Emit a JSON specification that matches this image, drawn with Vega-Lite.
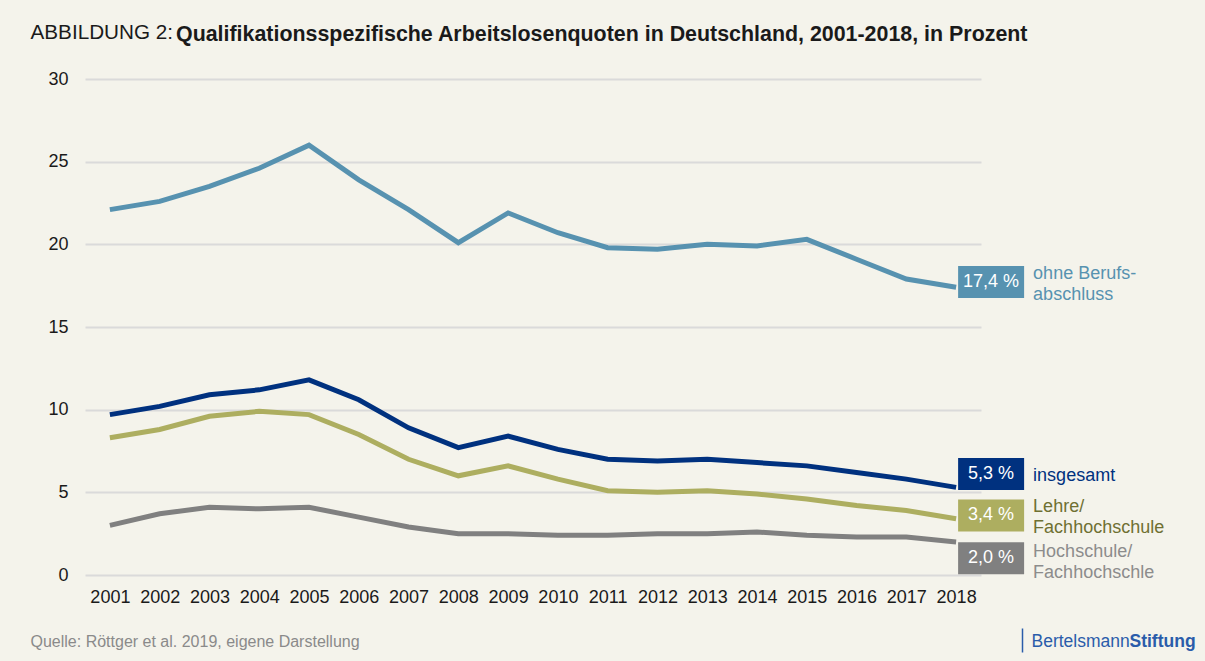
{
  "$schema": "https://vega.github.io/schema/vega-lite/v6.json",
  "width": 896,
  "height": 496,
  "autosize": "none",
  "padding": {"left": 85, "top": 79, "right": 224, "bottom": 86},
  "background": "#F4F3EB",
  "title": {
    "text": "Qualifikationsspezifische Arbeitslosenquoten in Deutschland, 2001-2018, in Prozent",
    "anchor": "start",
    "frame": "group",
    "orient": "top",
    "baseline": "alphabetic",
    "offset": 0,
    "dx": 91,
    "dy": 41,
    "font": "Liberation Sans",
    "fontSize": 21.4,
    "fontWeight": "bold",
    "color": "#1a1a1a"
  },
  "datasets": {
    "quoten": [
      {"Jahr": 2001, "Gruppe": "ohne Berufsabschluss", "Quote": 22.1},
      {"Jahr": 2002, "Gruppe": "ohne Berufsabschluss", "Quote": 22.6},
      {"Jahr": 2003, "Gruppe": "ohne Berufsabschluss", "Quote": 23.5},
      {"Jahr": 2004, "Gruppe": "ohne Berufsabschluss", "Quote": 24.6},
      {"Jahr": 2005, "Gruppe": "ohne Berufsabschluss", "Quote": 26.0},
      {"Jahr": 2006, "Gruppe": "ohne Berufsabschluss", "Quote": 23.9},
      {"Jahr": 2007, "Gruppe": "ohne Berufsabschluss", "Quote": 22.1},
      {"Jahr": 2008, "Gruppe": "ohne Berufsabschluss", "Quote": 20.1},
      {"Jahr": 2009, "Gruppe": "ohne Berufsabschluss", "Quote": 21.9},
      {"Jahr": 2010, "Gruppe": "ohne Berufsabschluss", "Quote": 20.7},
      {"Jahr": 2011, "Gruppe": "ohne Berufsabschluss", "Quote": 19.8},
      {"Jahr": 2012, "Gruppe": "ohne Berufsabschluss", "Quote": 19.7},
      {"Jahr": 2013, "Gruppe": "ohne Berufsabschluss", "Quote": 20.0},
      {"Jahr": 2014, "Gruppe": "ohne Berufsabschluss", "Quote": 19.9},
      {"Jahr": 2015, "Gruppe": "ohne Berufsabschluss", "Quote": 20.3},
      {"Jahr": 2016, "Gruppe": "ohne Berufsabschluss", "Quote": 19.1},
      {"Jahr": 2017, "Gruppe": "ohne Berufsabschluss", "Quote": 17.9},
      {"Jahr": 2018, "Gruppe": "ohne Berufsabschluss", "Quote": 17.4},
      {"Jahr": 2001, "Gruppe": "insgesamt", "Quote": 9.7},
      {"Jahr": 2002, "Gruppe": "insgesamt", "Quote": 10.2},
      {"Jahr": 2003, "Gruppe": "insgesamt", "Quote": 10.9},
      {"Jahr": 2004, "Gruppe": "insgesamt", "Quote": 11.2},
      {"Jahr": 2005, "Gruppe": "insgesamt", "Quote": 11.8},
      {"Jahr": 2006, "Gruppe": "insgesamt", "Quote": 10.6},
      {"Jahr": 2007, "Gruppe": "insgesamt", "Quote": 8.9},
      {"Jahr": 2008, "Gruppe": "insgesamt", "Quote": 7.7},
      {"Jahr": 2009, "Gruppe": "insgesamt", "Quote": 8.4},
      {"Jahr": 2010, "Gruppe": "insgesamt", "Quote": 7.6},
      {"Jahr": 2011, "Gruppe": "insgesamt", "Quote": 7.0},
      {"Jahr": 2012, "Gruppe": "insgesamt", "Quote": 6.9},
      {"Jahr": 2013, "Gruppe": "insgesamt", "Quote": 7.0},
      {"Jahr": 2014, "Gruppe": "insgesamt", "Quote": 6.8},
      {"Jahr": 2015, "Gruppe": "insgesamt", "Quote": 6.6},
      {"Jahr": 2016, "Gruppe": "insgesamt", "Quote": 6.2},
      {"Jahr": 2017, "Gruppe": "insgesamt", "Quote": 5.8},
      {"Jahr": 2018, "Gruppe": "insgesamt", "Quote": 5.3},
      {"Jahr": 2001, "Gruppe": "Lehre/Fachhochschule", "Quote": 8.3},
      {"Jahr": 2002, "Gruppe": "Lehre/Fachhochschule", "Quote": 8.8},
      {"Jahr": 2003, "Gruppe": "Lehre/Fachhochschule", "Quote": 9.6},
      {"Jahr": 2004, "Gruppe": "Lehre/Fachhochschule", "Quote": 9.9},
      {"Jahr": 2005, "Gruppe": "Lehre/Fachhochschule", "Quote": 9.7},
      {"Jahr": 2006, "Gruppe": "Lehre/Fachhochschule", "Quote": 8.5},
      {"Jahr": 2007, "Gruppe": "Lehre/Fachhochschule", "Quote": 7.0},
      {"Jahr": 2008, "Gruppe": "Lehre/Fachhochschule", "Quote": 6.0},
      {"Jahr": 2009, "Gruppe": "Lehre/Fachhochschule", "Quote": 6.6},
      {"Jahr": 2010, "Gruppe": "Lehre/Fachhochschule", "Quote": 5.8},
      {"Jahr": 2011, "Gruppe": "Lehre/Fachhochschule", "Quote": 5.1},
      {"Jahr": 2012, "Gruppe": "Lehre/Fachhochschule", "Quote": 5.0},
      {"Jahr": 2013, "Gruppe": "Lehre/Fachhochschule", "Quote": 5.1},
      {"Jahr": 2014, "Gruppe": "Lehre/Fachhochschule", "Quote": 4.9},
      {"Jahr": 2015, "Gruppe": "Lehre/Fachhochschule", "Quote": 4.6},
      {"Jahr": 2016, "Gruppe": "Lehre/Fachhochschule", "Quote": 4.2},
      {"Jahr": 2017, "Gruppe": "Lehre/Fachhochschule", "Quote": 3.9},
      {"Jahr": 2018, "Gruppe": "Lehre/Fachhochschule", "Quote": 3.4},
      {"Jahr": 2001, "Gruppe": "Hochschule/Fachhochschle", "Quote": 3.0},
      {"Jahr": 2002, "Gruppe": "Hochschule/Fachhochschle", "Quote": 3.7},
      {"Jahr": 2003, "Gruppe": "Hochschule/Fachhochschle", "Quote": 4.1},
      {"Jahr": 2004, "Gruppe": "Hochschule/Fachhochschle", "Quote": 4.0},
      {"Jahr": 2005, "Gruppe": "Hochschule/Fachhochschle", "Quote": 4.1},
      {"Jahr": 2006, "Gruppe": "Hochschule/Fachhochschle", "Quote": 3.5},
      {"Jahr": 2007, "Gruppe": "Hochschule/Fachhochschle", "Quote": 2.9},
      {"Jahr": 2008, "Gruppe": "Hochschule/Fachhochschle", "Quote": 2.5},
      {"Jahr": 2009, "Gruppe": "Hochschule/Fachhochschle", "Quote": 2.5},
      {"Jahr": 2010, "Gruppe": "Hochschule/Fachhochschle", "Quote": 2.4},
      {"Jahr": 2011, "Gruppe": "Hochschule/Fachhochschle", "Quote": 2.4},
      {"Jahr": 2012, "Gruppe": "Hochschule/Fachhochschle", "Quote": 2.5},
      {"Jahr": 2013, "Gruppe": "Hochschule/Fachhochschle", "Quote": 2.5},
      {"Jahr": 2014, "Gruppe": "Hochschule/Fachhochschle", "Quote": 2.6},
      {"Jahr": 2015, "Gruppe": "Hochschule/Fachhochschle", "Quote": 2.4},
      {"Jahr": 2016, "Gruppe": "Hochschule/Fachhochschle", "Quote": 2.3},
      {"Jahr": 2017, "Gruppe": "Hochschule/Fachhochschle", "Quote": 2.3},
      {"Jahr": 2018, "Gruppe": "Hochschule/Fachhochschle", "Quote": 2.0}
    ]
  },
  "data": {"name": "quoten"},
  "resolve": {"axis": {"x": "independent", "y": "independent"}},
  "layer": [
    {
      "mark": {"type": "line", "strokeWidth": 5, "strokeJoin": "miter"},
      "encoding": {
        "x": {
          "field": "Jahr", "type": "ordinal",
          "scale": {"type": "point", "padding": 0.5},
          "axis": {
            "labelAngle": 0, "labelOverlap": false, "labelFontSize": 18, "labelFont": "Liberation Sans",
            "labelColor": "#1a1a1a", "labelPadding": 13, "ticks": false, "domain": false, "grid": false,
            "title": "Quelle: Röttger et al. 2019, eigene Darstellung",
            "titleX": -55, "titleY": 71, "titleAlign": "left", "titleAnchor": "start", "titleBaseline": "alphabetic",
            "titleFont": "Liberation Sans", "titleFontSize": 16, "titleFontWeight": "normal", "titleColor": "#8a8a8a"
          }
        },
        "y": {
          "field": "Quote", "type": "quantitative",
          "scale": {"domain": [0, 30], "nice": false},
          "axis": {
            "values": [0, 5, 10, 15, 20, 25, 30],
            "labelFontSize": 18, "labelFont": "Liberation Sans", "labelColor": "#1a1a1a", "labelPadding": 17,
            "ticks": false, "domain": false, "grid": true, "gridColor": "#dadada", "gridWidth": 2,
            "title": "ABBILDUNG 2:",
            "titleX": -55, "titleY": -41, "titleAngle": 0, "titleAlign": "left", "titleAnchor": "start", "titleBaseline": "alphabetic",
            "titleFont": "Liberation Sans", "titleFontSize": 20.7, "titleFontWeight": "normal", "titleColor": "#1a1a1a"
          }
        },
        "color": {
          "field": "Gruppe", "type": "nominal", "legend": null,
          "scale": {
            "domain": ["ohne Berufsabschluss", "insgesamt", "Lehre/Fachhochschule", "Hochschule/Fachhochschle"],
            "range": ["#5792B0", "#00317F", "#ADAE60", "#808080"]
          }
        }
      }
    },
    {
      "transform": [{"filter": "datum.Jahr === 2018 && datum.Gruppe === 'ohne Berufsabschluss'"}],
      "mark": {"type": "point", "shape": "M-1,-0.485H1V0.485H-1Z", "filled": true, "opacity": 1, "strokeWidth": 0, "xOffset": 35, "yOffset": -5.3},
      "encoding": {
        "x": {
          "field": "Jahr", "type": "ordinal",
          "axis": {
            "orient": "top", "offset": -573, "values": [2018], "labels": false, "domain": false, "grid": false,
            "ticks": true, "tickOffset": 66, "tickSize": 24, "tickColor": "#2A5CAA", "tickWidth": 1.5,
            "title": "Bertelsmann", "titleX": 946, "titleY": -6, "titleAlign": "left", "titleAnchor": "start", "titleBaseline": "alphabetic",
            "titleFont": "Liberation Sans", "titleFontSize": 17.5, "titleFontWeight": "normal", "titleColor": "#2A5CAA"
          }
        },
        "y": {
          "field": "Quote", "type": "quantitative",
          "axis": {
            "orient": "right", "labels": false, "domain": false, "grid": false, "ticks": false,
            "title": "Stiftung", "titleX": 148, "titleY": 567, "titleAngle": 0, "titleAlign": "left", "titleAnchor": "start", "titleBaseline": "alphabetic",
            "titleFont": "Liberation Sans", "titleFontSize": 17.5, "titleFontWeight": "bold", "titleColor": "#2A5CAA"
          }
        },
        "color": {"field": "Gruppe", "type": "nominal", "legend": null},
        "size": {"value": 4356}
      }
    },
    {
      "transform": [{"filter": "datum.Jahr === 2018 && datum.Gruppe === 'ohne Berufsabschluss'"}],
      "mark": {"type": "text", "align": "right", "baseline": "middle", "font": "Liberation Sans", "fontSize": 18, "color": "#ffffff", "xOffset": 42, "yOffset": -5.3},
      "encoding": {
        "x": {"field": "Jahr", "type": "ordinal", "axis": null},
        "y": {"field": "Quote", "type": "quantitative", "axis": null},
        "text": {"field": "Quote", "type": "quantitative", "format": ".1f"}
      }
    },
    {
      "transform": [{"filter": "datum.Jahr === 2018 && datum.Gruppe === 'ohne Berufsabschluss'"}],
      "mark": {"type": "text", "align": "left", "baseline": "middle", "font": "Liberation Sans", "fontSize": 18, "color": "#ffffff", "xOffset": 47, "yOffset": -5.3, "text": "%"},
      "encoding": {
        "x": {"field": "Jahr", "type": "ordinal", "axis": null},
        "y": {"field": "Quote", "type": "quantitative", "axis": null}
      }
    },
    {
      "transform": [{"filter": "datum.Jahr === 2018 && datum.Gruppe === 'ohne Berufsabschluss'"}],
      "mark": {"type": "text", "align": "left", "baseline": "middle", "font": "Liberation Sans", "fontSize": 18, "lineHeight": 21, "color": "#5792B0", "xOffset": 77, "yOffset": -13, "text": ["ohne Berufs-", "abschluss"]},
      "encoding": {
        "x": {"field": "Jahr", "type": "ordinal", "axis": null},
        "y": {"field": "Quote", "type": "quantitative", "axis": null}
      }
    },
    {
      "transform": [{"filter": "datum.Jahr === 2018 && datum.Gruppe === 'insgesamt'"}],
      "mark": {"type": "point", "shape": "M-1,-0.485H1V0.485H-1Z", "filled": true, "opacity": 1, "strokeWidth": 0, "xOffset": 35, "yOffset": -13.4},
      "encoding": {
        "x": {"field": "Jahr", "type": "ordinal", "axis": null},
        "y": {"field": "Quote", "type": "quantitative", "axis": null},
        "color": {"field": "Gruppe", "type": "nominal", "legend": null},
        "size": {"value": 4356}
      }
    },
    {
      "transform": [{"filter": "datum.Jahr === 2018 && datum.Gruppe === 'insgesamt'"}],
      "mark": {"type": "text", "align": "right", "baseline": "middle", "font": "Liberation Sans", "fontSize": 18, "color": "#ffffff", "xOffset": 37, "yOffset": -13.4},
      "encoding": {
        "x": {"field": "Jahr", "type": "ordinal", "axis": null},
        "y": {"field": "Quote", "type": "quantitative", "axis": null},
        "text": {"field": "Quote", "type": "quantitative", "format": ".1f"}
      }
    },
    {
      "transform": [{"filter": "datum.Jahr === 2018 && datum.Gruppe === 'insgesamt'"}],
      "mark": {"type": "text", "align": "left", "baseline": "middle", "font": "Liberation Sans", "fontSize": 18, "color": "#ffffff", "xOffset": 42, "yOffset": -13.4, "text": "%"},
      "encoding": {
        "x": {"field": "Jahr", "type": "ordinal", "axis": null},
        "y": {"field": "Quote", "type": "quantitative", "axis": null}
      }
    },
    {
      "transform": [{"filter": "datum.Jahr === 2018 && datum.Gruppe === 'insgesamt'"}],
      "mark": {"type": "text", "align": "left", "baseline": "middle", "font": "Liberation Sans", "fontSize": 18, "lineHeight": 21, "color": "#00317F", "xOffset": 77, "yOffset": -11.4, "text": "insgesamt"},
      "encoding": {
        "x": {"field": "Jahr", "type": "ordinal", "axis": null},
        "y": {"field": "Quote", "type": "quantitative", "axis": null}
      }
    },
    {
      "transform": [{"filter": "datum.Jahr === 2018 && datum.Gruppe === 'Lehre/Fachhochschule'"}],
      "mark": {"type": "point", "shape": "M-1,-0.485H1V0.485H-1Z", "filled": true, "opacity": 1, "strokeWidth": 0, "xOffset": 35, "yOffset": -3.3},
      "encoding": {
        "x": {"field": "Jahr", "type": "ordinal", "axis": null},
        "y": {"field": "Quote", "type": "quantitative", "axis": null},
        "color": {"field": "Gruppe", "type": "nominal", "legend": null},
        "size": {"value": 4356}
      }
    },
    {
      "transform": [{"filter": "datum.Jahr === 2018 && datum.Gruppe === 'Lehre/Fachhochschule'"}],
      "mark": {"type": "text", "align": "right", "baseline": "middle", "font": "Liberation Sans", "fontSize": 18, "color": "#ffffff", "xOffset": 37, "yOffset": -3.3},
      "encoding": {
        "x": {"field": "Jahr", "type": "ordinal", "axis": null},
        "y": {"field": "Quote", "type": "quantitative", "axis": null},
        "text": {"field": "Quote", "type": "quantitative", "format": ".1f"}
      }
    },
    {
      "transform": [{"filter": "datum.Jahr === 2018 && datum.Gruppe === 'Lehre/Fachhochschule'"}],
      "mark": {"type": "text", "align": "left", "baseline": "middle", "font": "Liberation Sans", "fontSize": 18, "color": "#ffffff", "xOffset": 42, "yOffset": -3.3, "text": "%"},
      "encoding": {
        "x": {"field": "Jahr", "type": "ordinal", "axis": null},
        "y": {"field": "Quote", "type": "quantitative", "axis": null}
      }
    },
    {
      "transform": [{"filter": "datum.Jahr === 2018 && datum.Gruppe === 'Lehre/Fachhochschule'"}],
      "mark": {"type": "text", "align": "left", "baseline": "middle", "font": "Liberation Sans", "fontSize": 18, "lineHeight": 21, "color": "#6F7032", "xOffset": 77, "yOffset": -11.5, "text": ["Lehre/", "Fachhochschule"]},
      "encoding": {
        "x": {"field": "Jahr", "type": "ordinal", "axis": null},
        "y": {"field": "Quote", "type": "quantitative", "axis": null}
      }
    },
    {
      "transform": [{"filter": "datum.Jahr === 2018 && datum.Gruppe === 'Hochschule/Fachhochschle'"}],
      "mark": {"type": "point", "shape": "M-1,-0.485H1V0.485H-1Z", "filled": true, "opacity": 1, "strokeWidth": 0, "xOffset": 35, "yOffset": 16.4},
      "encoding": {
        "x": {"field": "Jahr", "type": "ordinal", "axis": null},
        "y": {"field": "Quote", "type": "quantitative", "axis": null},
        "color": {"field": "Gruppe", "type": "nominal", "legend": null},
        "size": {"value": 4356}
      }
    },
    {
      "transform": [{"filter": "datum.Jahr === 2018 && datum.Gruppe === 'Hochschule/Fachhochschle'"}],
      "mark": {"type": "text", "align": "right", "baseline": "middle", "font": "Liberation Sans", "fontSize": 18, "color": "#ffffff", "xOffset": 37, "yOffset": 16.4},
      "encoding": {
        "x": {"field": "Jahr", "type": "ordinal", "axis": null},
        "y": {"field": "Quote", "type": "quantitative", "axis": null},
        "text": {"field": "Quote", "type": "quantitative", "format": ".1f"}
      }
    },
    {
      "transform": [{"filter": "datum.Jahr === 2018 && datum.Gruppe === 'Hochschule/Fachhochschle'"}],
      "mark": {"type": "text", "align": "left", "baseline": "middle", "font": "Liberation Sans", "fontSize": 18, "color": "#ffffff", "xOffset": 42, "yOffset": 16.4, "text": "%"},
      "encoding": {
        "x": {"field": "Jahr", "type": "ordinal", "axis": null},
        "y": {"field": "Quote", "type": "quantitative", "axis": null}
      }
    },
    {
      "transform": [{"filter": "datum.Jahr === 2018 && datum.Gruppe === 'Hochschule/Fachhochschle'"}],
      "mark": {"type": "text", "align": "left", "baseline": "middle", "font": "Liberation Sans", "fontSize": 18, "lineHeight": 21, "color": "#8C8C8C", "xOffset": 77, "yOffset": 10, "text": ["Hochschule/", "Fachhochschle"]},
      "encoding": {
        "x": {"field": "Jahr", "type": "ordinal", "axis": null},
        "y": {"field": "Quote", "type": "quantitative", "axis": null}
      }
    }
  ],
  "config": {
    "view": {"stroke": null},
    "font": "Liberation Sans",
    "locale": {
      "number": {"decimal": ",", "thousands": ".", "grouping": [3], "currency": ["", " €"]}
    }
  }
}
